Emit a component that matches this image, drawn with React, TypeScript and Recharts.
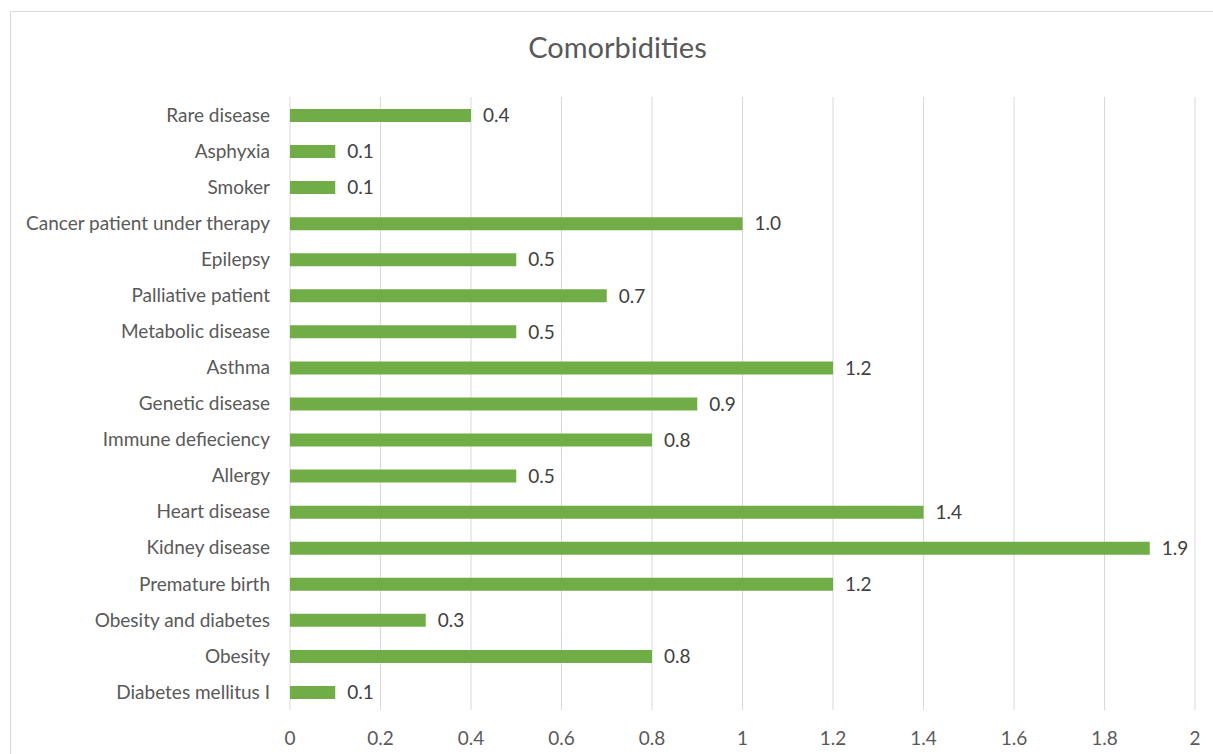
import { BarChart, Bar, XAxis, YAxis, CartesianGrid, LabelList } from 'recharts';

const categories = [
  'Rare disease',
  'Asphyxia',
  'Smoker',
  'Cancer patient under therapy',
  'Epilepsy',
  'Palliative patient',
  'Metabolic disease',
  'Asthma',
  'Genetic disease',
  'Immune defieciency',
  'Allergy',
  'Heart disease',
  'Kidney disease',
  'Premature birth',
  'Obesity and diabetes',
  'Obesity',
  'Diabetes mellitus I',
];

const values = [0.4, 0.1, 0.1, 1.0, 0.5, 0.7, 0.5, 1.2, 0.9, 0.8, 0.5, 1.4, 1.9, 1.2, 0.3, 0.8, 0.1];

const xTicks = [0, 0.2, 0.4, 0.6, 0.8, 1, 1.2, 1.4, 1.6, 1.8, 2];

const data = categories.map((name, i) => ({ name, value: values[i] }));

const FONT = 'Lato, "Open Sans", sans-serif';

export default function App() {
  return (
    <div
      style={{
        position: 'absolute',
        left: 0,
        top: 0,
        width: 1213,
        height: 754,
        overflow: 'hidden',
        background: '#fff',
        fontFamily: FONT,
      }}
    >
      {/* chart frame, only left and top edges fall inside the picture */}
      <div
        style={{
          position: 'absolute',
          left: 10,
          top: 11,
          width: 1400,
          height: 1000,
          border: '1px solid #d9d9d9',
        }}
      />
      <div
        style={{
          position: 'absolute',
          left: 0,
          top: 29,
          width: 1235,
          textAlign: 'center',
          fontSize: 29,
          color: '#595959',
        }}
      >
        Comorbidities
      </div>
      <div style={{ position: 'absolute', left: 0, top: 0 }}>
        <BarChart
          width={1213}
          height={754}
          data={data}
          layout="vertical"
          margin={{ top: 97, right: 18, bottom: 0, left: 0 }}
        >
          <CartesianGrid horizontal={false} stroke="#d9d9d9" />
          <XAxis
            type="number"
            domain={[0, 2]}
            ticks={xTicks}
            interval={0}
            axisLine={false}
            tickLine={false}
            height={44}
            tickSize={0}
            tickMargin={22}
            tick={{ fill: '#595959', fontSize: 19, fontFamily: FONT }}
          />
          <YAxis
            type="category"
            dataKey="name"
            width={290}
            axisLine={false}
            tickLine={false}
            tickSize={0}
            tickMargin={20}
            interval={0}
            tick={{ fill: '#595959', fontSize: 19, fontFamily: FONT }}
          />
          <Bar dataKey="value" fill="#70ad47" barSize={13} isAnimationActive={false}>
            <LabelList
              dataKey="value"
              position="right"
              offset={12}
              formatter={(v: number) => v.toFixed(1)}
              style={{ fill: '#404040', fontSize: 19, fontFamily: FONT }}
            />
          </Bar>
        </BarChart>
      </div>
    </div>
  );
}
